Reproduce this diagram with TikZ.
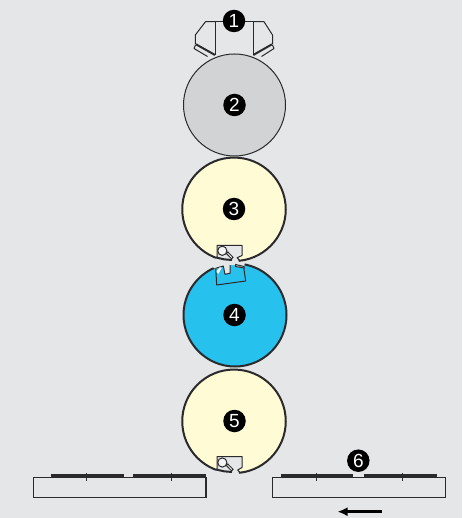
\documentclass[tikz,border=0pt]{standalone}
\usepackage{fontspec}
\usetikzlibrary{arrows.meta}
\setmainfont{Liberation Sans}
\definecolor{bgc}{HTML}{E5E6E8}
\definecolor{linec}{HTML}{2A2A2C}
\definecolor{creamc}{HTML}{FFFBD5}
\definecolor{cyanc}{HTML}{27C1EE}
\definecolor{greyc}{HTML}{D2D3D5}
\tikzset{
  badge/.style={circle,fill=black,text=white,inner sep=0pt,minimum size=22.5pt,font=\fontsize{19}{19}\selectfont},
  thick line/.style={draw=linec,line width=2pt},
  thin line/.style={draw=linec,line width=1pt},
  plate/.style={draw=linec,line width=3pt},
  drum/.style={circle,inner sep=0pt,minimum size=102pt,draw=linec},
  bedbox/.style={draw=linec,line width=1.1pt,fill=bgc},
  pin/.style={draw=linec,line width=1pt}
}
\begin{document}
\begin{tikzpicture}[x=1pt,y=-1pt]
\useasboundingbox (0,0) rectangle (462,518);
\fill[bgc] (0,0) rectangle (462,518);
% feed unit 1
\draw[thin line,line join=round] (215,21.7) -- (205.5,21.7) -- (195.3,35) -- (195.3,44.5);
\draw[thin line,line join=round] (253.3,21.7) -- (264,21.7) -- (272.5,35) -- (272.5,44.5);
\draw[thin line] (205.5,21.7) -- (264,21.7);
\draw[thin line] (215,21.7) -- (215,55);
\draw[thin line] (253.3,21.7) -- (253.3,55);
\draw[thick line] (196,44.3) -- (215,55);
\draw[thick line] (272,44.3) -- (253.3,55);
\draw[thin line,line join=round] (195.5,45) -- (194,48.5) -- (207.5,56.5);
\draw[thin line,line join=round] (272.5,45) -- (274,48.5) -- (261.5,56.5);
% drums
\node[drum,fill=greyc,line width=1pt] (d2) at (234.5,105) {};
\node[drum,fill=creamc,line width=2pt,minimum size=103.5pt] (d3) at (234,209.3) {};
\node[drum,fill=cyanc,line width=2pt,minimum size=103pt] (d4) at (235,315) {};
\node[drum,fill=creamc,line width=2pt,minimum size=103.5pt] (d5) at (234,421.3) {};
% gap of drum 3
\fill[bgc] (217,245.3) -- (242,245.3) -- (242,255.5) -- (237,257.8) -- (240.5,265) -- (215.5,265) -- (215.5,259) -- (217,257) -- cycle;
\draw[thin line,line join=round] (217,257.5) -- (217,245.3) -- (242,245.3) -- (242,255.5) -- (237,257.8) -- (240,260.5);
\draw[thick line] (216,257.5) -- (224,259.3) -- (232,260);
\draw[pin,fill=white] (231.5,258.8) -- (226.3,253.4) -- (227.8,252) -- (233,257.3) -- cycle;
\draw[pin,fill=bgc!40!white] (222.3,250.8) circle (4.6);
% gap of drum 4
\fill[bgc] (215.7,269) -- (223.3,266.5) -- (225,274.3) -- (230,273.3) -- (230,262) -- (236,262) -- (236,264.8) -- (244,267) -- (245,262) -- (205,262) -- cycle;
\draw[thin line,line join=round] (215.7,268.3) -- (216.7,285) -- (245.7,281) -- (243.7,267.5);
\draw[thin line,line join=round] (215.7,268.3) -- (223.3,266) -- (225,274.3) -- (230,273.3) -- (230,265);
\draw[thin line,fill=greyc] (235.5,264.5) -- (244,266.5) -- (244,268) -- (235.5,266.5) -- cycle;
\fill[white] (216.5,271) -- (220,267.2) -- (221.6,268) -- (218.2,274) -- cycle;
% gap of drum 5
\fill[bgc] (217,456.5) -- (242,456.5) -- (242,467.5) -- (237.7,470) -- (240.5,477) -- (215.5,477) -- (215.5,471) -- (217,469) -- cycle;
\draw[thin line,line join=round] (217,469.5) -- (217,456.5) -- (242,456.5) -- (242,467.5) -- (237.7,470) -- (240,472.5);
\draw[thick line] (216,469.5) -- (224,471.3) -- (232,472);
\draw[pin,fill=white] (231.5,470.8) -- (226.3,465.4) -- (227.8,464) -- (233,469.3) -- cycle;
\draw[pin,fill=bgc!40!white] (222.3,462.5) circle (4.6);
% beds
\draw[bedbox] (33.3,477.3) rectangle (206,497.3);
\draw[bedbox] (272.8,477.3) rectangle (445.7,497.3);
\draw[plate] (50.7,475.8) -- (124,475.8);
\draw[plate] (133.3,475.8) -- (205.7,475.8);
\draw[plate] (281,475.8) -- (353.3,475.8);
\draw[plate] (364.3,475.8) -- (436.7,475.8);
\foreach \xx in {86,171,316.7,402}{\draw[pin] (\xx,473.2) -- (\xx,480.6);}
% arrow
\coordinate (arrowstart) at (381.7,511.7);
\coordinate (arrowend) at (337.5,511.7);
\draw[draw=black,line width=3.2pt,-{Latex[length=10pt,width=9pt]}] (arrowstart) -- (arrowend);
% badges
\node[badge] (b1) at (234,21) {1};
\node[badge] (b2) at (234.5,105) {2};
\node[badge] (b3) at (234,209) {3};
\node[badge] (b4) at (234.5,315) {4};
\node[badge] (b5) at (234.5,421) {5};
\node[badge] (b6) at (358.3,460.7) {6};
\end{tikzpicture}
\end{document}
